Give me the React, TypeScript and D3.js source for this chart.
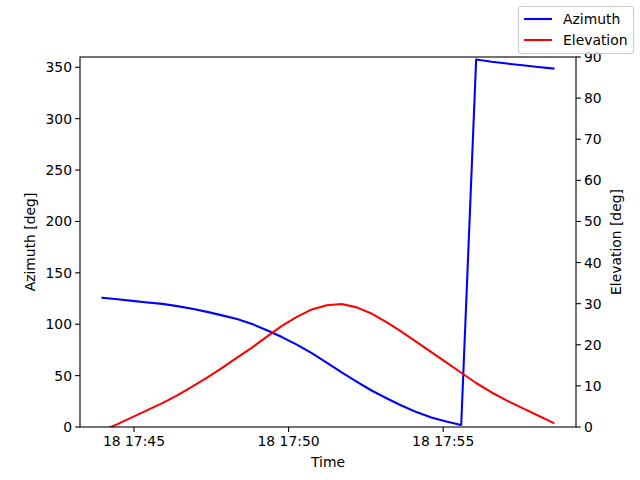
import React from "react";
import * as d3 from "d3";

const times = [
  "17:43:59", "17:44:28", "17:44:57", "17:45:26", "17:45:55", "17:46:24",
  "17:46:53", "17:47:22", "17:47:51", "17:48:20", "17:48:49", "17:49:18",
  "17:49:47", "17:50:16", "17:50:45", "17:51:14", "17:51:43", "17:52:12",
  "17:52:41", "17:53:10", "17:53:39", "17:54:08", "17:54:37", "17:55:06",
  "17:55:35", "17:56:04", "17:56:34", "17:57:04", "17:57:34", "17:58:04",
  "17:58:34",
];
const azimuth = [
  125.8, 124.3, 122.7, 121.2, 119.8, 117.6, 115.1, 112.0, 108.6, 105.0,
  100.3, 94.2, 87.5, 80.1, 71.9, 62.6, 53.1, 44.2, 35.5, 28.0,
  20.9, 14.5, 9.3, 5.3, 2.0, 357.6, 355.4, 353.6, 352.0, 350.3, 348.8,
];
const elevation = [
  -0.9, 0.7, 2.4, 4.1, 5.8, 7.7, 9.8, 12.0, 14.4, 16.9,
  19.3, 22.0, 24.6, 26.8, 28.6, 29.6, 29.9, 29.1, 27.6, 25.5,
  23.2, 20.7, 18.2, 15.7, 13.2, 10.7, 8.4, 6.4, 4.6, 2.8, 1.0,
];
const azTicks = [0, 50, 100, 150, 200, 250, 300, 350];
const elTicks = [0, 10, 20, 30, 40, 50, 60, 70, 80, 90];
const seriesNames = ["Azimuth", "Elevation"];

const W = 640, H = 480;
const M = { left: 80, right: 576, top: 57, bottom: 427 };
const FONT = "'DejaVu Sans', sans-serif";
const FS = 13.9;

function parseT(s: string) {
  const [h, m, sec] = s.split(":").map(Number);
  return new Date(2023, 0, 18, h, m, sec);
}

export default function App() {
  const dates = times.map(parseT);
  const t0 = dates[0].getTime(), t1 = dates[dates.length - 1].getTime();
  const pad = (t1 - t0) * 0.05;
  const x = d3.scaleTime().domain([new Date(t0 - pad), new Date(t1 + pad)]).range([M.left, M.right]);
  const yA = d3.scaleLinear().domain([0, 360]).range([M.bottom, M.top]);
  const yE = d3.scaleLinear().domain([0, 90]).range([M.bottom, M.top]);
  const xTicks = x.ticks(d3.timeMinute.every(5) as any);
  const fmt = d3.timeFormat("%d %H:%M");

  const lineA = d3.line<number>().x((_, i) => x(dates[i])).y((d) => yA(d));
  const lineE = d3.line<number>().x((_, i) => x(dates[i])).y((d) => yE(d));

  return (
    <svg width={W} height={H} style={{ display: "block", position: "absolute", left: 0, top: 0 }} fontFamily={FONT}>
      <rect x={0} y={0} width={W} height={H} fill="#fff" />
      <defs>
        <clipPath id="plotclip">
          <rect x={M.left} y={M.top} width={M.right - M.left} height={M.bottom - M.top} />
        </clipPath>
      </defs>
      <g clipPath="url(#plotclip)">
        <path d={lineA(azimuth) || ""} fill="none" stroke="#0000ff" strokeWidth={2.08} strokeLinejoin="round" strokeLinecap="square" />
        <path d={lineE(elevation) || ""} fill="none" stroke="#ff0000" strokeWidth={2.08} strokeLinejoin="round" strokeLinecap="square" />
      </g>
      <rect x={M.left} y={M.top} width={M.right - M.left} height={M.bottom - M.top} fill="none" stroke="#000" strokeWidth={1.1} />
      {azTicks.map((v) => (
        <g key={"a" + v}>
          <line x1={M.left - 4.9} x2={M.left} y1={yA(v)} y2={yA(v)} stroke="#000" strokeWidth={1.1} />
          <text x={M.left - 8} y={yA(v)} dy="0.36em" textAnchor="end" fontSize={FS} fill="#000">{v}</text>
        </g>
      ))}
      {elTicks.map((v) => (
        <g key={"e" + v}>
          <line x1={M.right} x2={M.right + 4.9} y1={yE(v)} y2={yE(v)} stroke="#000" strokeWidth={1.1} />
          <text x={M.right + 8} y={yE(v)} dy="0.36em" textAnchor="start" fontSize={FS} fill="#000">{v}</text>
        </g>
      ))}
      {xTicks.map((d) => (
        <g key={d.getTime()}>
          <line x1={x(d)} x2={x(d)} y1={M.bottom} y2={M.bottom + 4.9} stroke="#000" strokeWidth={1.1} />
          <text x={x(d)} y={M.bottom + 18.5} textAnchor="middle" fontSize={FS} fill="#000">{fmt(d)}</text>
        </g>
      ))}
      <text x={(M.left + M.right) / 2} y={467} textAnchor="middle" fontSize={FS} fill="#000">Time</text>
      <text transform={`translate(35, ${(M.top + M.bottom) / 2}) rotate(-90)`} textAnchor="middle" fontSize={FS} fill="#000">Azimuth [deg]</text>
      <text transform={`translate(621, ${(M.top + M.bottom) / 2}) rotate(-90)`} textAnchor="middle" fontSize={FS} fill="#000">Elevation [deg]</text>
      <rect x={518.5} y={6.5} width={115} height={47} rx={3} fill="#fff" fillOpacity={0.8} stroke="#cccccc" strokeWidth={1.1} />
      {seriesNames.map((n, i) => (
        <g key={n}>
          <line x1={524} x2={552} y1={19 + i * 21} y2={19 + i * 21} stroke={i === 0 ? "#0000ff" : "#ff0000"} strokeWidth={2.08} />
          <text x={563} y={19 + i * 21} dy="0.36em" fontSize={FS} fill="#000">{n}</text>
        </g>
      ))}
    </svg>
  );
}
